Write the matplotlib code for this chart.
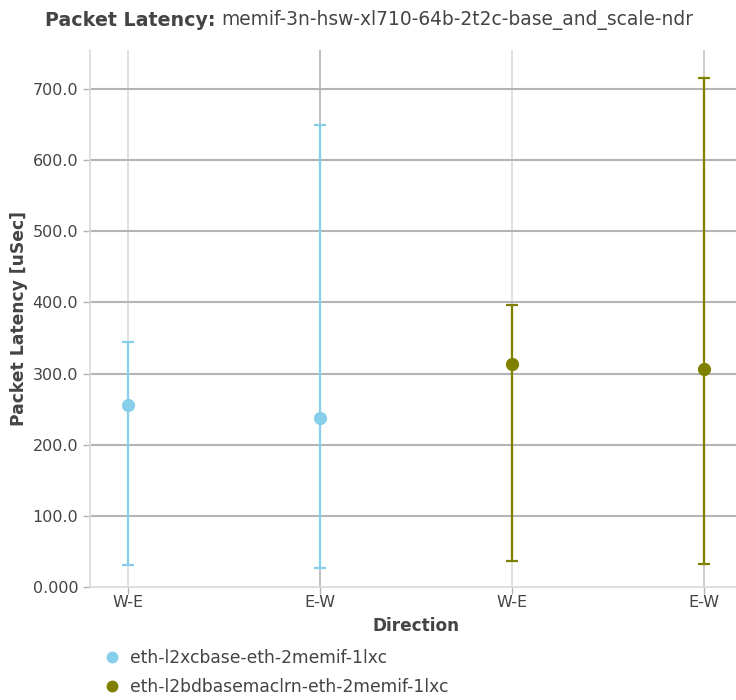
import numpy as np
import matplotlib.pyplot as plt
from matplotlib.lines import Line2D

plt.rcParams['font.family'] = ['DejaVu Sans']

# ----------------------------------------------------------------------------------------------------------------------
# Data.
# ----------------------------------------------------------------------------------------------------------------------
directions = ['W-E', 'E-W', 'W-E', 'E-W']
series_names = ['eth-l2xcbase-eth-2memif-1lxc', 'eth-l2bdbasemaclrn-eth-2memif-1lxc']
series_colors = ['#87ceeb', '#808000']
series_pos = [[0, 1], [2, 3]]
avg_vals = [[256, 238], [314, 306]]
min_vals = [[31, 27], [37, 32]]
max_vals = [[345, 649], [397, 716]]
y_ticks = [0, 100, 200, 300, 400, 500, 600, 700]
y_tick_labels = ['0.000', '100.0', '200.0', '300.0', '400.0', '500.0', '600.0', '700.0']

TXT = '#444444'

fig = plt.figure(figsize=(7.36, 7.0), dpi=100)
ax = fig.add_axes([90 / 736, 113 / 700, 652 / 736, 537 / 700])

for color, pos, avg, lo, hi in zip(series_colors, series_pos, avg_vals, min_vals, max_vals):
    avg = np.array(avg)
    err = [avg - np.array(lo), np.array(hi) - avg]
    ax.errorbar(pos, avg, yerr=err, fmt='o', color=color, ecolor=color, markersize=8.5,
                elinewidth=1.6, capsize=4, capthick=1.6, zorder=3)

ax.set_xlim(-0.2, 3.2)
ax.set_ylim(0, 755)
ax.set_xticks(range(len(directions)))
ax.set_xticklabels(directions)
ax.set_yticks(y_ticks)
ax.set_yticklabels(y_tick_labels)

# grid: horizontal darker, vertical lighter
for y in y_ticks[1:]:
    ax.axhline(y, color='#b4b4b4', linewidth=1.5, zorder=1)
vgrid_colors = ['#d9d9d9', '#b4b4b4', '#d9d9d9', '#c6c6c6']
for x, c in enumerate(vgrid_colors):
    ax.axvline(x, color=c, linewidth=1.2, zorder=0.5)

for side in ['top', 'right']:
    ax.spines[side].set_visible(False)
for side in ['left', 'bottom']:
    ax.spines[side].set_color('#d9d9d9')
    ax.spines[side].set_linewidth(1.2)
ax.tick_params(axis='both', labelcolor=TXT, labelsize=11.5, length=5, width=1, color='#b4b4b4')
ax.tick_params(axis='x', pad=1)

ax.set_xlabel('Direction', fontsize=12.2, fontweight='bold', color=TXT, labelpad=5)
ax.set_ylabel('Packet Latency [uSec]', fontsize=12.3, fontweight='bold', color=TXT, labelpad=3)

t1 = fig.text(45 / 736, 1 - 20 / 700, 'Packet Latency:', fontsize=13.7, fontweight='bold',
              color=TXT, va='center')
fig.canvas.draw()
bb = t1.get_window_extent()
fig.text((bb.x1 + 6) / 736, 1 - 20 / 700, 'memif-3n-hsw-xl710-64b-2t2c-base_and_scale-ndr',
         fontsize=13.4, color=TXT, va='center')

handles = [Line2D([], [], linestyle='none', marker='o', markersize=7.5, color=c) for c in series_colors]
leg = fig.legend(handles, series_names, loc='upper left', bbox_to_anchor=(103 / 736, 1 - 649 / 700),
                 frameon=False, fontsize=12.3, handletextpad=0.6, labelspacing=0.62,
                 handlelength=1.0, borderpad=0, borderaxespad=0)
for text in leg.get_texts():
    text.set_color(TXT)

fig.savefig('out.png', dpi=100)
